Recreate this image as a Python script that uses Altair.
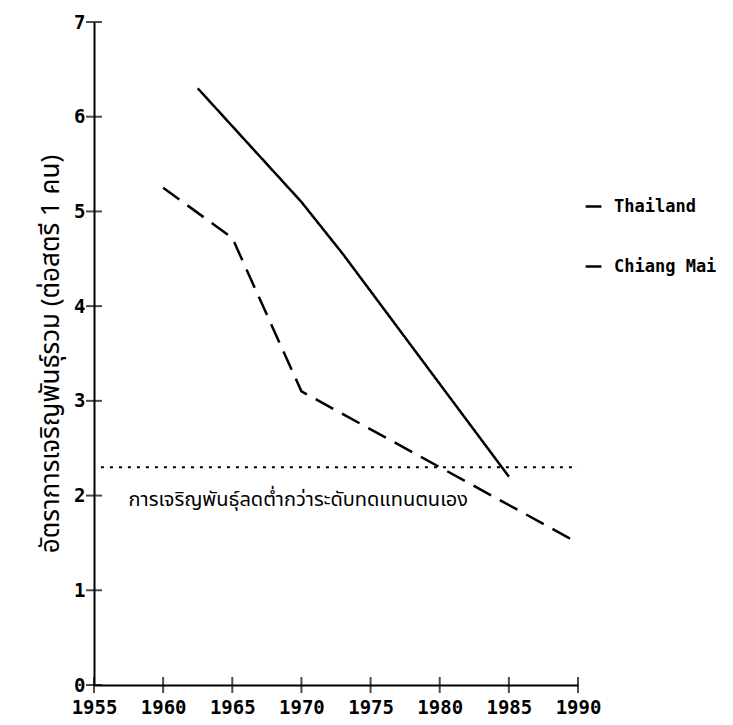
import altair as alt
import pandas as pd

th_years = [1962.5, 1970, 1973, 1985]
th_vals = [6.3, 5.1, 4.55, 2.2]
cm_years = [1960, 1965, 1970, 1980, 1990]
cm_vals = [5.25, 4.72, 3.1, 2.3, 1.5]
repl_years = [1955.5, 1990]
repl_vals = [2.3, 2.3]
x_ticks = [1955, 1960, 1965, 1970, 1975, 1980, 1985, 1990]
y_ticks = [0, 1, 2, 3, 4, 5, 6, 7]
series_names = ["Thailand", "Chiang Mai"]
note_text = "การเจริญพันธุ์ลดต่ำกว่าระดับทดแทนตนเอง"
note_pos = [1957.5, 1.95]
y_title = "อัตราการเจริญพันธุ์รวม (ต่อสตรี 1 คน)"

thai_font = "Noto Sans Thai, Noto Sans, Loma, sans-serif"
num_font = "DejaVu Sans Mono"

rows = [{"year": y, "tfr": v, "series": "Thailand"} for y, v in zip(th_years, th_vals)]
rows += [{"year": y, "tfr": v, "series": "Chiang Mai"} for y, v in zip(cm_years, cm_vals)]
df = pd.DataFrame(rows)

xs = alt.Scale(domain=[1955, 1990], nice=False, zero=False)
ys = alt.Scale(domain=[0, 7], nice=False)

lines = alt.Chart(df).mark_line(color="black", strokeWidth=2.5).encode(
    x=alt.X("year:Q", scale=xs,
            axis=alt.Axis(values=x_ticks, format="d", title=None, ticks=False,
                          grid=False, labelFont=num_font, labelFontWeight="bold",
                          labelFontSize=19, labelColor="black", labelPadding=13,
                          labelBaseline="top",
                          domainColor="black", domainWidth=2, labelFlush=False)),
    y=alt.Y("tfr:Q", scale=ys,
            axis=alt.Axis(values=y_ticks, format="d", title=y_title, ticks=False, grid=False,
                          labelFont=num_font, labelFontWeight="bold", labelFontSize=19,
                          labelColor="black", labelPadding=9, domainColor="black",
                          domainWidth=2, titleFont=thai_font, titleFontSize=26,
                          titleFontWeight="normal", titleColor="black", titlePadding=10,
                          labelFlush=False)),
    strokeDash=alt.StrokeDash("series:N",
        scale=alt.Scale(domain=series_names, range=[[1, 0], [20, 10]]),
        legend=alt.Legend(title=None, orient="none", legendX=490, legendY=175,
                          symbolType="stroke", symbolStrokeWidth=2.5, symbolSize=250,
                          symbolStrokeColor="black", labelFont=num_font,
                          labelFontWeight="bold", labelFontSize=17, labelColor="black",
                          rowPadding=42, labelOffset=11)),
    detail="series:N",
)

repl = alt.Chart(pd.DataFrame({"year": repl_years, "tfr": repl_vals})).mark_line(
    color="black", strokeWidth=2, strokeDash=[3, 6]
).encode(x=alt.X("year:Q", scale=xs), y=alt.Y("tfr:Q", scale=ys))

note = alt.Chart(pd.DataFrame({"year": [note_pos[0]], "tfr": [note_pos[1]], "t": [note_text]})).mark_text(
    align="left", baseline="middle", font=thai_font, fontSize=20, color="black"
).encode(x=alt.X("year:Q", scale=xs), y=alt.Y("tfr:Q", scale=ys), text="t:N")

yt = alt.Chart(pd.DataFrame({"tfr": y_ticks, "year": [1955] * len(y_ticks)})).mark_tick(
    orient="horizontal", size=16, thickness=2, color="black"
).encode(x=alt.X("year:Q", scale=xs), y=alt.Y("tfr:Q", scale=ys))

xt = alt.Chart(pd.DataFrame({"year": x_ticks, "tfr": [0] * len(x_ticks)})).mark_tick(
    orient="vertical", size=16, thickness=2, color="black"
).encode(x=alt.X("year:Q", scale=xs), y=alt.Y("tfr:Q", scale=ys))

chart = alt.layer(repl, lines, note, yt, xt).properties(
    width=484, height=663,
    autosize=alt.AutoSizeParams(type="none"),
    padding={"left": 86, "top": 14, "right": 140, "bottom": 32},
    background="white",
).configure_view(strokeWidth=0)

chart.save("out.html", embed_options={"renderer": "svg", "actions": False})
